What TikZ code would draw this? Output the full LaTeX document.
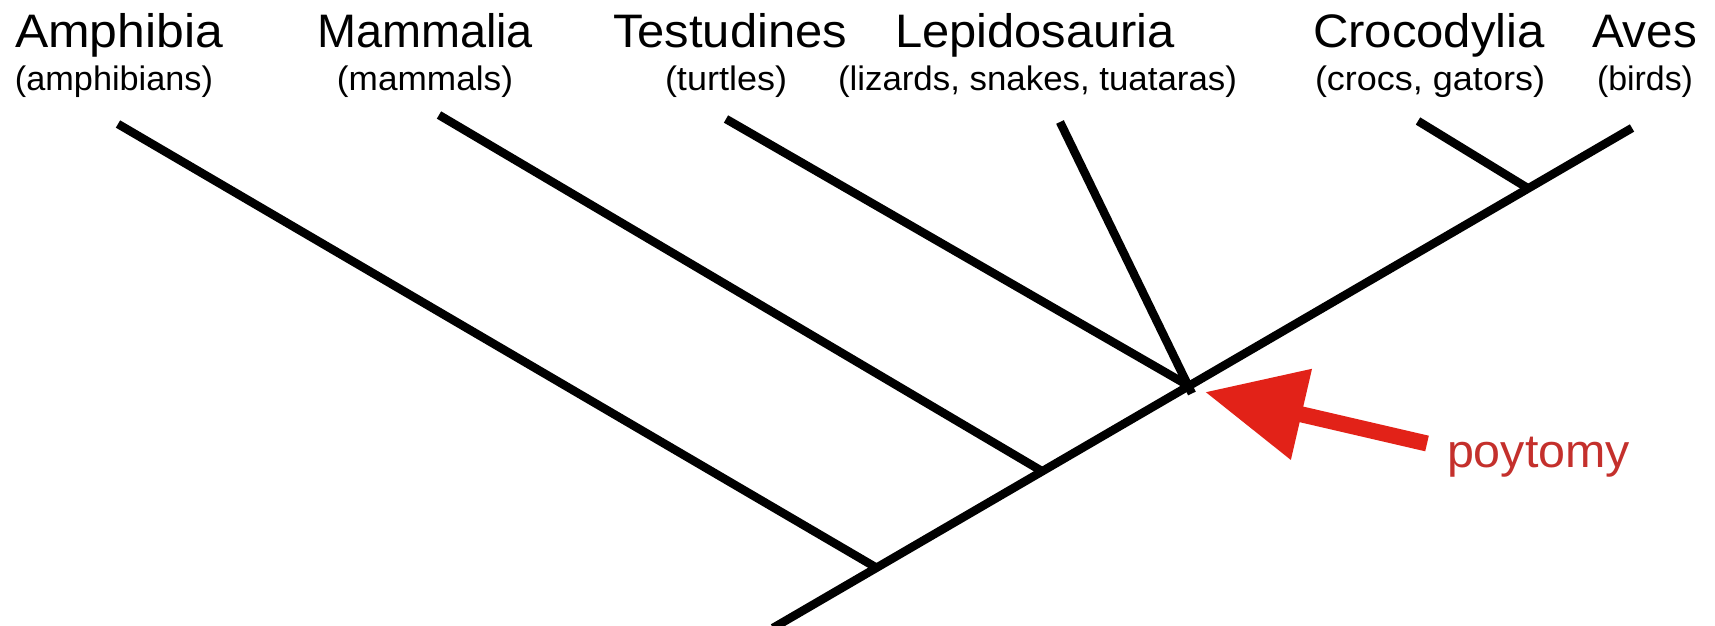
\documentclass[tikz,border=0pt]{standalone}
\usepackage{fontspec}
\setmainfont{Liberation Sans}
\usepackage{graphicx}
\usetikzlibrary{arrows.meta}
\definecolor{arrowred}{RGB}{226,34,24}
\definecolor{labelred}{RGB}{196,48,44}
\newcommand{\fitw}[2]{\resizebox{#1pt}{\height}{#2}}
\tikzset{
  branch/.style={line width=8.5pt, black},
  taxon/.style={anchor=base, inner sep=0pt, font=\fontsize{47}{56}\selectfont},
  common/.style={anchor=base, inner sep=0pt, font=\fontsize{34}{40}\selectfont},
  polyarrow/.style={arrowred, line width=16pt, -{Triangle[length=99pt,width=89pt]}},
  polylabel/.style={anchor=base, inner sep=0pt, text=labelred, font=\fontsize{47}{56}\selectfont},
}
\begin{document}
\begin{tikzpicture}[x=1pt,y=-1pt]
\useasboundingbox[fill=white] (0,0) rectangle (1715,626);

% tree coordinates
\coordinate (root) at (773,628);
\coordinate (jA) at (875,566.9);
\coordinate (jM) at (1041,470.6);
\coordinate (jP) at (1188,385.4);
\coordinate (jC) at (1528,188.3);
\coordinate (tA) at (118,124);
\coordinate (tM) at (439,115);
\coordinate (tT) at (726,119);
\coordinate (tL) at (1060,122);
\coordinate (tC) at (1418,121);
\coordinate (tAv) at (1632,128);

% branches
\draw[branch] (root) -- (tAv);
\draw[branch] (tA) -- (jA);
\draw[branch] (tM) -- (jM);
\draw[branch] (tT) -- (jP);
\draw[branch, shorten >=-9pt] (tL) -- (jP);
\draw[branch] (tC) -- (jC);

% labels
\node[taxon] (lA) at (119,48) {\fitw{208}{Amphibia}};
\node[common] (sA) at (114,90) {\fitw{198}{(amphibians)}};
\node[taxon] (lM) at (425,48) {\fitw{216}{Mammalia}};
\node[common] (sM) at (425,90) {\fitw{176}{(mammals)}};
\node[taxon] (lT) at (730,48) {\fitw{234}{Testudines}};
\node[common] (sT) at (726,90) {\fitw{122}{(turtles)}};
\node[taxon] (lL) at (1035,48) {\fitw{280}{Lepidosauria}};
\node[common] (sL) at (1037.5,90) {\fitw{399}{(lizards, snakes, tuataras)}};
\node[taxon] (lC) at (1429,48) {\fitw{232}{Crocodylia}};
\node[common] (sC) at (1430,90) {\fitw{230}{(crocs, gators)}};
\node[taxon] (lAv) at (1644.5,48) {\fitw{105}{Aves}};
\node[common] (sAv) at (1645,90) {\fitw{96}{(birds)}};

% polytomy arrow
\coordinate (atail) at (1427,443.5);
\coordinate (atip) at (1205,392);
\draw[polyarrow] (atail) -- (atip);
\node[polylabel] (poly) at (1538.5,467) {\fitw{183}{poytomy}};
\end{tikzpicture}
\end{document}
